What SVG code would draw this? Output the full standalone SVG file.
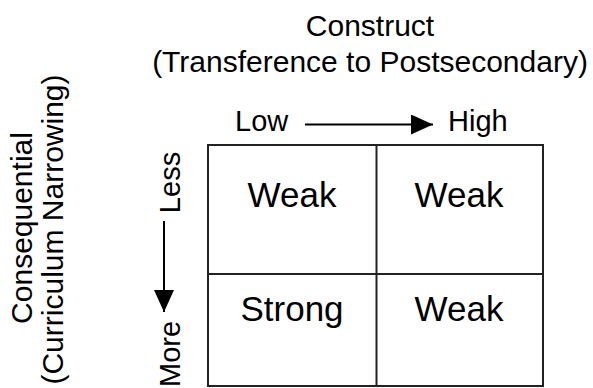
<svg xmlns="http://www.w3.org/2000/svg" width="593" height="388" viewBox="0 0 593 388">
  <style>
    text { font-family: "Liberation Sans", Arial, sans-serif; fill: #000; }
    .hdr { font-size: 30px; text-anchor: middle; }
    .ax { font-size: 29px; }
    .cell { font-size: 35px; text-anchor: middle; }
    .grid { fill: none; stroke: #222; stroke-width: 2; }
    .conn { stroke: #000; stroke-width: 2; fill: none; }
  </style>
  <defs>
    <marker id="arrow" markerUnits="userSpaceOnUse" markerWidth="24" markerHeight="22" refX="22" refY="10" orient="auto">
      <path d="M0,0 L22,10 L0,20 Z" fill="#000"/>
    </marker>
  </defs>

  <rect width="593" height="388" fill="#fff"/>

  <g id="title-construct">
    <text class="hdr" x="370" y="36">Construct</text>
    <text class="hdr" x="370" y="72">(Transference to Postsecondary)</text>
  </g>

  <g id="title-consequential">
    <text class="hdr" transform="translate(32,228) rotate(-90)">Consequential</text>
    <text class="hdr" transform="translate(63,229.5) rotate(-90)">(Curriculum Narrowing)</text>
  </g>

  <g id="label-low"><text class="ax" x="235" y="131">Low</text></g>
  <g id="label-high"><text class="ax" x="448" y="131">High</text></g>
  <g id="label-less"><text class="ax" text-anchor="middle" transform="translate(180,182.5) rotate(-90)">Less</text></g>
  <g id="label-more"><text class="ax" text-anchor="start" transform="translate(180,387) rotate(-90)">More</text></g>

  <g id="grid">
    <rect class="grid" x="208" y="145" width="335" height="241"/>
    <line class="grid" x1="376.5" y1="145" x2="376.5" y2="386"/>
    <line class="grid" x1="208" y1="274" x2="543" y2="274"/>
  </g>

  <g id="cell-low-less"><text class="cell" x="292" y="207">Weak</text></g>
  <g id="cell-high-less"><text class="cell" x="459" y="207">Weak</text></g>
  <g id="cell-low-more"><text class="cell" x="292" y="321">Strong</text></g>
  <g id="cell-high-more"><text class="cell" x="459" y="321">Weak</text></g>

  <g id="connectors">
    <line class="conn" x1="305" y1="124.5" x2="433" y2="124.5" marker-end="url(#arrow)"/>
    <line class="conn" x1="164" y1="221" x2="164" y2="312" marker-end="url(#arrow)"/>
  </g>
</svg>
